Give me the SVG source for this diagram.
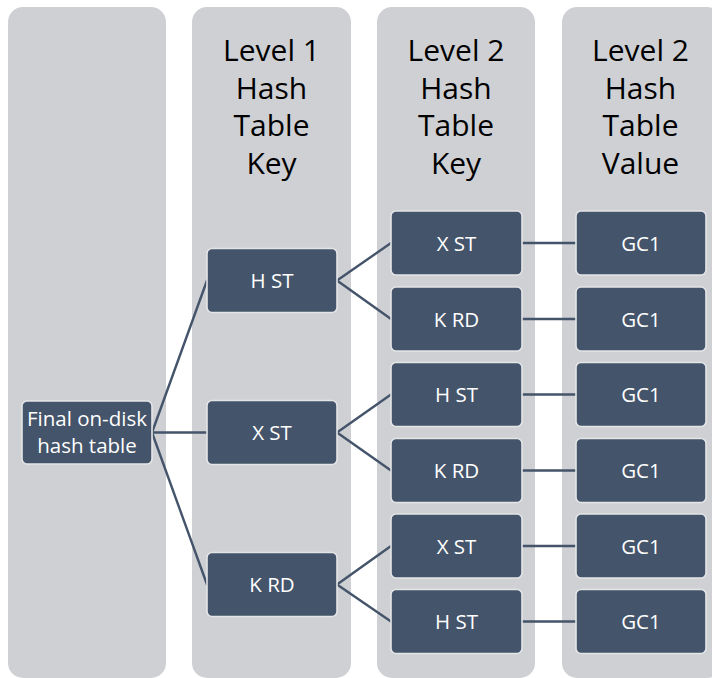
<svg xmlns="http://www.w3.org/2000/svg" width="712" height="678" viewBox="0 0 712 678">
  <style>
    .col { fill: #cfd0d4; }
    .hdr { font-family: "Open Sans", Lato, "Liberation Sans", sans-serif; font-size: 30px; fill: #000000; text-anchor: middle; }
    .box rect { fill: #44546a; stroke: #e4e5e7; stroke-width: 1.6; }
    .box text { font-family: "Open Sans", Lato, "Liberation Sans", sans-serif; font-size: 20.5px; fill: #ffffff; text-anchor: middle; }
    .links line { stroke: #44546a; stroke-width: 2.4; stroke-linecap: round; }
  </style>

  <!-- column backgrounds -->
  <g id="columns">
    <rect class="col" x="8" y="7" width="158" height="671" rx="15"/>
    <rect class="col" x="192" y="7" width="159" height="671" rx="15"/>
    <rect class="col" x="377" y="7" width="158" height="671" rx="15"/>
    <rect class="col" x="562" y="7" width="160" height="671" rx="15"/>
  </g>

  <!-- column headings -->
  <g id="heading-l1key">
    <text class="hdr" x="271.5" y="61">Level 1</text>
    <text class="hdr" x="271.5" y="98.5">Hash</text>
    <text class="hdr" x="271.5" y="136">Table</text>
    <text class="hdr" x="271.5" y="173.5">Key</text>
  </g>
  <g id="heading-l2key">
    <text class="hdr" x="456" y="61">Level 2</text>
    <text class="hdr" x="456" y="98.5">Hash</text>
    <text class="hdr" x="456" y="136">Table</text>
    <text class="hdr" x="456" y="173.5">Key</text>
  </g>
  <g id="heading-l2value">
    <text class="hdr" x="640.5" y="61">Level 2</text>
    <text class="hdr" x="640.5" y="98.5">Hash</text>
    <text class="hdr" x="640.5" y="136">Table</text>
    <text class="hdr" x="640.5" y="173.5">Value</text>
  </g>

  <!-- connectors -->
  <g id="connectors" class="links">
    <line x1="152" y1="432.5" x2="207" y2="280.5"/>
    <line x1="152" y1="432.5" x2="207" y2="432.5"/>
    <line x1="152" y1="432.5" x2="207" y2="584.5"/>

    <line x1="337" y1="280.5" x2="391" y2="243"/>
    <line x1="337" y1="280.5" x2="391" y2="319"/>
    <line x1="337" y1="432.5" x2="391" y2="394.5"/>
    <line x1="337" y1="432.5" x2="391" y2="470.5"/>
    <line x1="337" y1="584.5" x2="391" y2="546"/>
    <line x1="337" y1="584.5" x2="391" y2="621.5"/>

    <line x1="522" y1="243" x2="576" y2="243"/>
    <line x1="522" y1="319" x2="576" y2="319"/>
    <line x1="522" y1="394.5" x2="576" y2="394.5"/>
    <line x1="522" y1="470.5" x2="576" y2="470.5"/>
    <line x1="522" y1="546" x2="576" y2="546"/>
    <line x1="522" y1="621.5" x2="576" y2="621.5"/>
  </g>

  <!-- root -->
  <g id="root" class="box">
    <rect x="22" y="401" width="130" height="63" rx="5"/>
    <text x="87" y="425.5">Final on-disk</text>
    <text x="87" y="452.5">hash table</text>
  </g>

  <!-- level 1 keys -->
  <g id="l1-hst" class="box">
    <rect x="207" y="248.5" width="130" height="64" rx="5"/>
    <text x="272" y="288">H ST</text>
  </g>
  <g id="l1-xst" class="box">
    <rect x="207" y="400.5" width="130" height="64" rx="5"/>
    <text x="272" y="440">X ST</text>
  </g>
  <g id="l1-krd" class="box">
    <rect x="207" y="552.5" width="130" height="64" rx="5"/>
    <text x="272" y="592">K RD</text>
  </g>

  <!-- level 2 keys -->
  <g id="l2-hst-xst" class="box">
    <rect x="391" y="211" width="131" height="64" rx="5"/>
    <text x="456.5" y="250.5">X ST</text>
  </g>
  <g id="l2-hst-krd" class="box">
    <rect x="391" y="287" width="131" height="64" rx="5"/>
    <text x="456.5" y="326.5">K RD</text>
  </g>
  <g id="l2-xst-hst" class="box">
    <rect x="391" y="362.5" width="131" height="64" rx="5"/>
    <text x="456.5" y="402">H ST</text>
  </g>
  <g id="l2-xst-krd" class="box">
    <rect x="391" y="438.5" width="131" height="64" rx="5"/>
    <text x="456.5" y="478">K RD</text>
  </g>
  <g id="l2-krd-xst" class="box">
    <rect x="391" y="514" width="131" height="64" rx="5"/>
    <text x="456.5" y="553.5">X ST</text>
  </g>
  <g id="l2-krd-hst" class="box">
    <rect x="391" y="589.5" width="131" height="64" rx="5"/>
    <text x="456.5" y="629">H ST</text>
  </g>

  <!-- level 2 values -->
  <g id="v1" class="box">
    <rect x="576" y="211" width="130" height="64" rx="5"/>
    <text x="641" y="250.5">GC1</text>
  </g>
  <g id="v2" class="box">
    <rect x="576" y="287" width="130" height="64" rx="5"/>
    <text x="641" y="326.5">GC1</text>
  </g>
  <g id="v3" class="box">
    <rect x="576" y="362.5" width="130" height="64" rx="5"/>
    <text x="641" y="402">GC1</text>
  </g>
  <g id="v4" class="box">
    <rect x="576" y="438.5" width="130" height="64" rx="5"/>
    <text x="641" y="478">GC1</text>
  </g>
  <g id="v5" class="box">
    <rect x="576" y="514" width="130" height="64" rx="5"/>
    <text x="641" y="553.5">GC1</text>
  </g>
  <g id="v6" class="box">
    <rect x="576" y="589.5" width="130" height="64" rx="5"/>
    <text x="641" y="629">GC1</text>
  </g>
</svg>
